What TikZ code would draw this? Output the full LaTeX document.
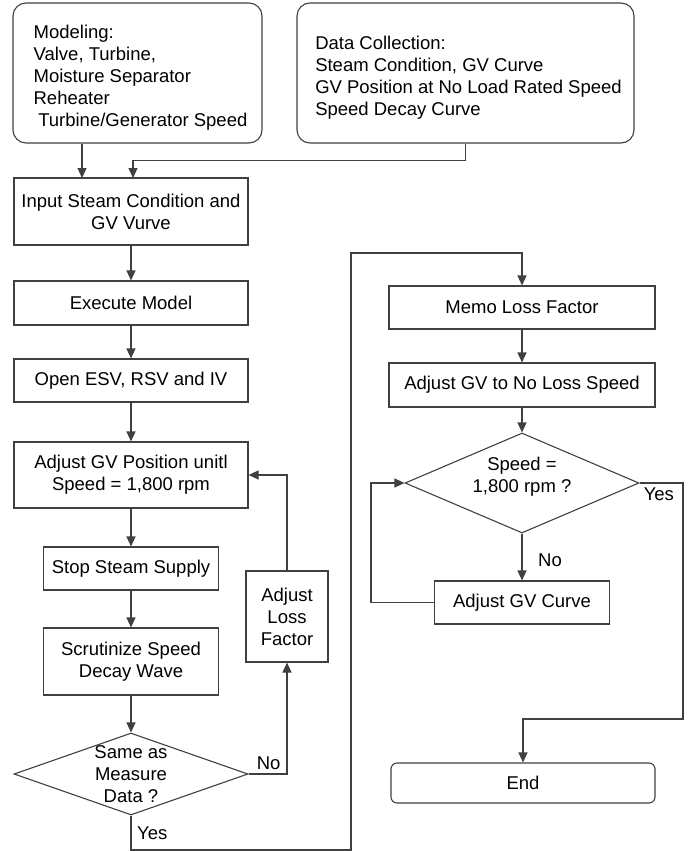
\documentclass[tikz,border=0pt]{standalone}
\usepackage{fontspec}
\setmainfont{Liberation Sans}
\usetikzlibrary{shapes.geometric}
\usetikzlibrary{arrows.meta}
\usetikzlibrary{calc}

\tikzset{
  stepbox/.style={draw=black!75, line width=1.1pt, minimum height=43pt, inner sep=0pt, align=center},
  infobox/.style={stepbox, rounded corners=13pt},
  infotext/.style={align=left, inner sep=0pt, xshift=3pt, yshift=-5pt},
  decision/.style={draw=black!75, line width=1.1pt, diamond, inner sep=0pt},
  flow/.style={draw=black!75, line width=1.1pt, -{Triangle[length=10pt,width=9pt]}},
  answer/.style={inner sep=0pt}
}

\begin{document}
\begin{tikzpicture}[x=1pt, y=-1pt, font=\fontsize{18.5}{22}\selectfont]
\useasboundingbox (0,0) rectangle (696,851);

% collected inputs
\node[infobox, minimum width=249pt, minimum height=140pt] (model) at (137.5,73) {};
\node[infotext] (modeltext) at (model) {Modeling:\\Valve, Turbine,\\Moisture Separator\\Reheater\\\hspace*{0.25em}Turbine/Generator Speed};
\node[infobox, minimum width=337pt, minimum height=140pt] (data) at (465.5,73) {};
\node[infotext] (datatext) at (data) {Data Collection:\\Steam Condition, GV Curve\\GV Position at No Load Rated Speed\\Speed Decay Curve};

%%%Left column
\node[stepbox, minimum width=234pt, minimum height=67pt] (input) at (131,211.5) {Input Steam Condition and\\GV Vurve};
\node[stepbox, minimum width=234pt, minimum height=44pt] (exec) at (131,303) {Execute Model};
\node[stepbox, minimum width=234pt] (open) at (131,380.5) {Open ESV, RSV and IV};
\node[stepbox, minimum width=234pt, minimum height=66pt] (adjgv) at (131,475) {Adjust GV Position unitl\\Speed = 1,800 rpm};
\node[stepbox, minimum width=175pt] (stop) at (131,568.5) {Stop Steam Supply};
\node[stepbox, minimum width=175pt, minimum height=67pt] (scrut) at (131,661.5) {Scrutinize Speed\\Decay Wave};
\node[decision, minimum width=234pt, minimum height=82pt] (same) at (131,774) {};
\node[align=center, inner sep=0pt] (sametext) at (same) {Same as\\Measure\\Data ?};
\node[stepbox, minimum width=82pt, minimum height=91pt] (loss) at (287,616.5) {Adjust\\Loss\\Factor};

%%%Right column
\node[stepbox, minimum width=266pt] (memo) at (522,307.5) {Memo Loss Factor};
\node[stepbox, minimum width=266pt, minimum height=44pt] (noloss) at (522,385) {Adjust GV to No Loss Speed};
\node[decision, minimum width=234pt, minimum height=100pt] (speed) at (522,483) {};
\node[align=center, inner sep=0pt, yshift=6pt] (speedtext) at (speed) {Speed =\\1,800 rpm ?};
\node[stepbox, minimum width=175pt] (curve) at (522,602.5) {Adjust GV Curve};
\node[stepbox, rounded corners=6pt, minimum width=264pt, minimum height=40pt] (end) at (523,783) {End};

% bends
\coordinate (inA) at (82,178);
\coordinate (inB) at (133,178);
\coordinate (yesbot) at (351,850);
\coordinate (yestop) at (351,253);
\coordinate (yesright) at (683,719);
\coordinate (loopl) at (371,483);

% connectors
\draw[flow] (model.south -| inA) -- (inA);
\draw[flow] (data.south) -- ++(0,17) -| (inB);
\draw[flow] (input) -- (exec);
\draw[flow] (exec) -- (open);
\draw[flow] (open) -- (adjgv);
\draw[flow] (adjgv) -- (stop);
\draw[flow] (stop) -- (scrut);
\draw[flow] (scrut) -- (same);
\draw[flow] (same.east) -| (loss.south);
\draw[flow] (loss.north) |- (adjgv.east);
\draw[flow] (same.south) |- (yesbot) -- (yestop) -| (memo.north);
\draw[flow] (memo) -- (noloss);
\draw[flow] (noloss) -- (speed);
\draw[flow] (speed) -- (curve);
\draw[flow] (speed.east) -| (yesright) -| (end.north);
\draw[flow] (curve.west) -| (loopl) -- (speed.west);

% answers
\node[answer, anchor=south west] (sameno) at ($ (same.east) + (8,-4) $) {No};
\node[answer, anchor=west] (sameyes) at ($ (same.south) + (6,18) $) {Yes};
\node[answer, anchor=north west] (speedyes) at ($ (speed.east) + (4,5) $) {Yes};
\node[answer, anchor=west] (speedno) at ($ (speed.south) + (16,27) $) {No};

\end{tikzpicture}
\end{document}
